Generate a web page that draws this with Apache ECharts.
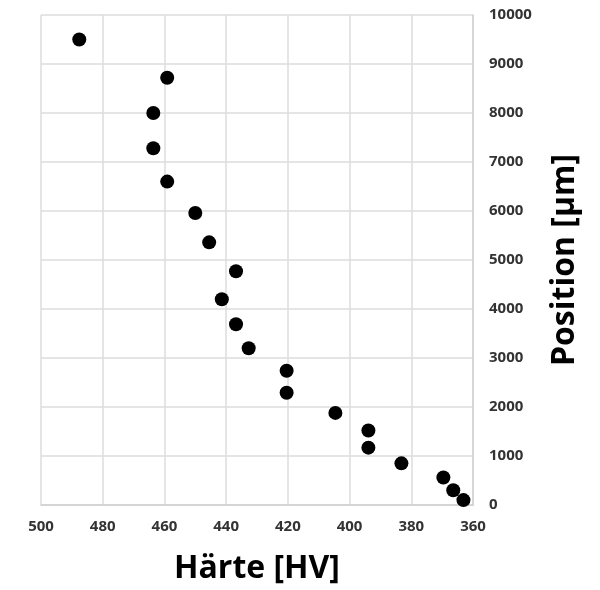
<!DOCTYPE html>
<html>
<head>
<meta charset="utf-8">
<script src="https://cdn.jsdelivr.net/npm/echarts@6/dist/echarts.min.js"></script>
<style>html,body{margin:0;padding:0;background:#fff}#c{width:600px;height:590px}</style>
</head>
<body>
<div id="c"></div>
<script>
const hardness = [487.6, 459.1, 463.6, 463.6, 459.1, 450.0, 445.5, 436.8, 441.4, 436.8, 432.7, 420.4, 420.4, 404.6, 393.9, 393.9, 383.2, 369.6, 366.4, 363.1];
const position = [9500, 8720, 8000, 7280, 6600, 5960, 5360, 4770, 4200, 3690, 3200, 2740, 2290, 1880, 1520, 1170, 850, 560, 300, 100];
const xTicks = [360, 500, 20];
const yTicks = [0, 10000, 1000];
const xTitle = 'Härte [HV]';
const yTitle = 'Position [µm]';

const chart = echarts.init(document.getElementById('c'), null, {renderer: 'canvas'});
const labelStyle = {color: '#333', fontFamily: 'Open Sans', fontWeight: 'bold', fontSize: 15, formatter: v => String(v)};
chart.setOption({
  animation: false,
  backgroundColor: '#fff',
  grid: {left: 41, right: 127, top: 15, bottom: 82, containLabel: false},
  xAxis: {
    type: 'value', inverse: true,
    min: xTicks[0], max: xTicks[1], interval: xTicks[2],
    name: xTitle, nameLocation: 'middle', nameGap: 48,
    nameTextStyle: {color: '#000', fontFamily: 'Open Sans', fontWeight: 'bold', fontSize: 32},
    axisLine: {show: true, lineStyle: {color: '#d0d0d0', width: 1.5}},
    axisTick: {show: false},
    axisLabel: Object.assign({margin: 14}, labelStyle),
    splitLine: {show: true, lineStyle: {color: '#dcdcdc', width: 1.5}}
  },
  yAxis: {
    type: 'value', position: 'right',
    min: yTicks[0], max: yTicks[1], interval: yTicks[2],
    name: yTitle, nameLocation: 'middle', nameGap: 76, nameRotate: 90,
    nameTextStyle: {color: '#000', fontFamily: 'Open Sans', fontWeight: 'bold', fontSize: 32},
    axisLine: {show: true, lineStyle: {color: '#d0d0d0', width: 1.5}},
    axisTick: {show: false},
    axisLabel: Object.assign({margin: 16}, labelStyle),
    splitLine: {show: true, lineStyle: {color: '#dcdcdc', width: 1.5}}
  },
  series: [{
    type: 'scatter',
    symbol: 'circle',
    symbolSize: 14,
    itemStyle: {color: '#000', opacity: 1},
    data: hardness.map((h, i) => [h, position[i]])
  }]
});
</script>
</body>
</html>
